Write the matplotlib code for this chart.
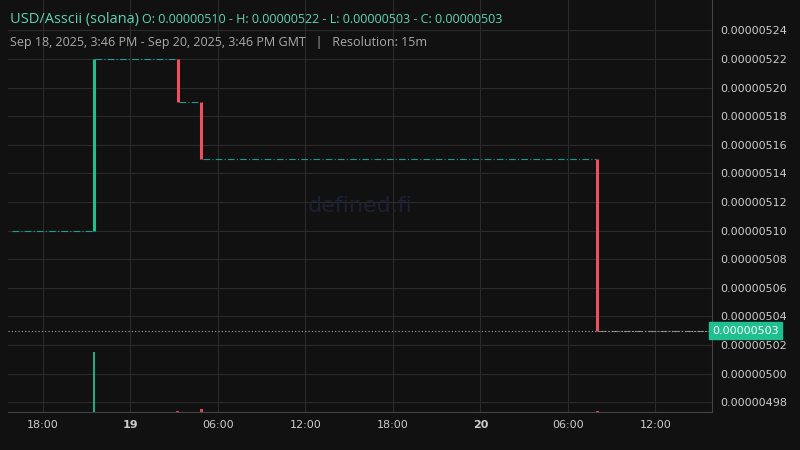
import matplotlib
matplotlib.use("Agg")
import matplotlib.pyplot as plt
from matplotlib.ticker import FixedLocator, FuncFormatter

# hours since Sep 18 00:00 GMT
level_starts = [15.77, 21.5, 27.25, 28.85, 56.0]
level_end = 63.77
levels = [5.10e-6, 5.22e-6, 5.19e-6, 5.15e-6, 5.03e-6]
vol_times = [21.5, 27.25, 28.85, 56.0]
vol_values = [1.0, 0.02, 0.05, 0.02]
xtick_pos = [18, 24, 30, 36, 42, 48, 54, 60]
xtick_labels = ["18:00", "19", "06:00", "12:00", "18:00", "20", "06:00", "12:00"]
ytick_vals = [4.98e-6, 5.00e-6, 5.02e-6, 5.04e-6, 5.06e-6, 5.08e-6, 5.10e-6, 5.12e-6,
              5.14e-6, 5.16e-6, 5.18e-6, 5.20e-6, 5.22e-6, 5.24e-6]
last_price = 5.03e-6

BG = "#111111"; GRID = "#2b2b2b"; GREEN = "#1fbf8f"; RED = "#ef4f5f"; TEAL = "#1aa9a0"
fig = plt.figure(figsize=(8, 4.5), dpi=100, facecolor=BG)
ax = fig.add_axes([0.01, (450 - 412) / 450, 0.88, 412 / 450], facecolor=BG)
ax.set_xlim(15.6, 63.88)
ax.set_ylim(4.9731e-6, 5.2613e-6)

vax = ax.twinx()
vax.set_ylim(0, 6.9)
vax.bar(vol_times, vol_values, width=0.2, color=[GREEN, RED, RED, RED], alpha=0.9)
vax.axis("off")

ends = level_starts[1:] + [level_end]
for i, (s, e, p) in enumerate(zip(level_starts, ends, levels)):
    ax.plot([s + 0.1, e - 0.1], [p, p], color=TEAL if i < 4 else "#888888",
            lw=0.8, ls=(0, (6, 2, 1, 2)), alpha=0.9)
    if i > 0:
        prev = levels[i - 1]
        c = GREEN if p > prev else RED
        ax.plot([s, s], [prev, p], color=c, lw=2.2, solid_capstyle="butt")

ax.axhline(last_price, color="#aaaaaa", lw=0.8, ls=(0, (1, 2)))

ax.yaxis.tick_right()
ax.yaxis.set_label_position("right")
ax.yaxis.set_major_locator(FixedLocator(ytick_vals))
ax.yaxis.set_major_formatter(FuncFormatter(lambda v, p: f"{v:.8f}"))
ax.xaxis.set_major_locator(FixedLocator(xtick_pos))
ax.set_xticklabels(xtick_labels)
for lbl, t in zip(ax.get_xticklabels(), xtick_labels):
    if t in ("19", "20"):
        lbl.set_fontweight("bold")
ax.tick_params(colors="#cccccc", labelsize=8, length=0, pad=6)
ax.tick_params(axis="y", left=False, labelleft=False, right=False, labelright=True)
ax.grid(True, color=GRID, lw=0.8)
for s in ax.spines.values():
    s.set_visible(False)
ax.spines["bottom"].set_visible(True); ax.spines["bottom"].set_color("#444444")
ax.spines["right"].set_visible(True); ax.spines["right"].set_color("#444444")

ax.text(1.0, last_price, f"{last_price:.8f}", transform=ax.get_yaxis_transform(),
        ha="left", va="center", fontsize=8, color="white", zorder=10,
        bbox=dict(boxstyle="square,pad=0.3", fc=GREEN, ec=GREEN))

ax.text(0.5, 0.5, "defined.fi", transform=ax.transAxes, ha="center", va="center",
        fontsize=16, color="#1e2033")

fig.text(0.012, 0.948, "USD/Asscii (solana)", color="#5fd3b0", fontsize=10.5, family="Open Sans")
fig.text(0.178, 0.948, "O: 0.00000510 - H: 0.00000522 - L: 0.00000503 - C: 0.00000503",
         color="#5fd3b0", fontsize=9, family="Open Sans")
fig.text(0.012, 0.898, "Sep 18, 2025, 3:46 PM - Sep 20, 2025, 3:46 PM GMT   |   Resolution: 15m",
         color="#aaaaaa", fontsize=9, family="Open Sans")
fig.savefig("out.png", facecolor=BG)
